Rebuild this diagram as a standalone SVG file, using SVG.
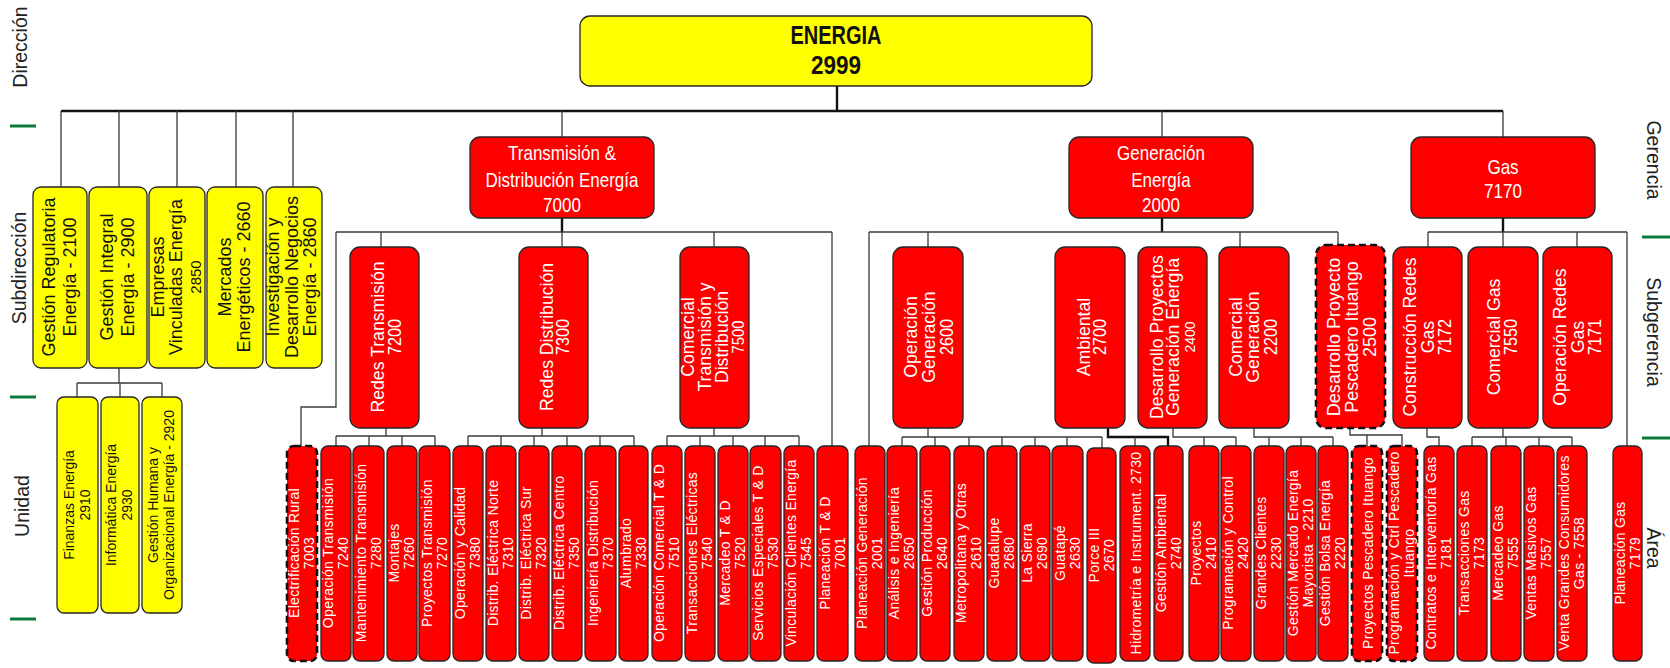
<svg xmlns="http://www.w3.org/2000/svg" width="1670" height="668" viewBox="0 0 1670 668">
<style>
text{font-family:"Liberation Sans",Arial,sans-serif}
.lab{font-size:19.5px;fill:#222}
.r{fill:#ff0000;stroke:#262626;stroke-width:1.3}
.y{fill:#ffff00;stroke:#262626;stroke-width:1.3}
.d{stroke:#111;stroke-width:2.6;stroke-dasharray:7 4}
.ut{font-size:14px;fill:#fff;text-anchor:middle;letter-spacing:0.3px}
.yt{font-size:14px;fill:#111;text-anchor:middle}
.st{font-size:19px;fill:#fff;text-anchor:middle}
.sc{font-size:17.5px}
.gt{font-size:20px;fill:#fff;text-anchor:middle}
.ys{font-size:18px;fill:#111;text-anchor:middle}
.et{font-size:25px;font-weight:bold;fill:#111;text-anchor:middle}
.c{stroke:#3a3a3a;stroke-width:1.3;fill:none}
.k{stroke:#111;stroke-width:2.4;fill:none}
.g{stroke:#0b7a3b;stroke-width:3}
</style>
<rect width="1670" height="668" fill="#fff"/>

<g id="side-labels">
<text class="lab" text-anchor="middle" transform="translate(27,47) rotate(-90)">Dirección</text>
<text class="lab" text-anchor="middle" transform="translate(26,268) rotate(-90)">Subdirección</text>
<text class="lab" text-anchor="middle" transform="translate(29,506) rotate(-90)">Unidad</text>
<text class="lab" text-anchor="middle" transform="translate(1647,160) rotate(90)">Gerencia</text>
<text class="lab" text-anchor="middle" transform="translate(1647,332) rotate(90)">Subgerencia</text>
<text class="lab" text-anchor="middle" transform="translate(1647,548) rotate(90)">Área</text>
<line class="g" x1="10" y1="126" x2="36" y2="126"/>
<line class="g" x1="10" y1="397" x2="36" y2="397"/>
<line class="g" x1="10" y1="619" x2="36" y2="619"/>
<line class="g" x1="1642" y1="237" x2="1670" y2="237"/>
<line class="g" x1="1642" y1="438" x2="1670" y2="438"/>
</g>

<g id="connectors">
<path class="k" d="M837 86V111M61 111H1503"/>
<path class="c" d="M61 111V187M119 111V187M177 111V187M236 111V187M293 111V187"/>
<path class="c" d="M562 111V137M1162 111V137M1503 111V137"/>
<path class="c" d="M119 368V383M77 383H162M77 383V397M120 383V397M162 383V397"/>
<path class="k" d="M562 218V232"/>
<path class="c" d="M336 232H832M381 232V247M562 232V247M714 232V247M832 232V446M336 232V407H301V446"/>
<path class="c" d="M386 428V436M336 436H435M336 436V446M369 436V446M402 436V446M435 436V446"/>
<path class="c" d="M542 428V436M468 436H634M468 436V446M501 436V446M534 436V446M567 436V446M600 436V446M634 436V446"/>
<path class="c" d="M714 428V436M667 436H799M667 436V446M700 436V446M733 436V446M765 436V446M799 436V446"/>
<path class="k" d="M1162 218V232"/>
<path class="c" d="M869 232H1338M869 232V446M928 232V247M1240 232V247M1338 232V244"/>
<path class="c" d="M928 428V437M902 437H1102M902 437V446M935 437V446M969 437V446M1002 437V446M1035 437V446M1067 437V446M1102 437V448"/>
<path class="k" d="M1108 428V437H1168V446"/>
<path class="c" d="M1135 437V446"/>
<path class="c" d="M1173 428V437H1236M1204 437V446M1236 437V446"/>
<path class="c" d="M1254 428V437H1333M1269 437V446M1301 437V446M1333 437V446"/>
<path class="c" d="M1350 428V435H1402V446M1367 435V446"/>
<path class="k" d="M1503 218V232"/>
<path class="c" d="M1428 232H1627M1428 232V247M1503 232V247M1577 232V247M1627 232V446"/>
<path class="c" d="M1427 428V437H1439V446"/>
<path class="c" d="M1503 428V437M1472 437H1572M1472 437V446M1506 437V446M1539 437V446M1572 437V446"/>
</g>

<g id="energia">
<rect class="y" x="580" y="16" width="512" height="70" rx="10"/>
<text class="et" transform="translate(836,44) scale(0.8,1)">ENERGIA</text>
<text class="et" transform="translate(836,74) scale(0.9,1)">2999</text>
</g>

<g id="g2100"><rect class="y" x="33" y="187" width="54" height="181" rx="8"/><text class="ys" transform="translate(60,277) rotate(-90)"><tspan x="0" y="-5">Gestión Regulatoria</tspan><tspan x="0" y="16">Energía - 2100</tspan></text></g>
<g id="g2900"><rect class="y" x="89" y="187" width="58" height="181" rx="8"/><text class="ys" transform="translate(118,277) rotate(-90)"><tspan x="0" y="-5">Gestión Integral</tspan><tspan x="0" y="16">Energía - 2900</tspan></text></g>
<g id="g2850"><rect class="y" x="149" y="187" width="56" height="181" rx="8"/><text class="ys" transform="translate(177,277) rotate(-90)"><tspan x="0" y="-13">Empresas</tspan><tspan x="0" y="5">Vinculadas Energía</tspan><tspan x="0" y="24" font-size="15">2850</tspan></text></g>
<g id="g2660"><rect class="y" x="207" y="187" width="56" height="181" rx="8"/><text class="ys" transform="translate(235,277) rotate(-90)"><tspan x="0" y="-4">Mercados</tspan><tspan x="0" y="15">Energéticos - 2660</tspan></text></g>
<g id="g2860"><rect class="y" x="266" y="187" width="56" height="181" rx="8"/><text class="ys" transform="translate(294,277) rotate(-90)"><tspan x="0" y="-15">Investigación y</tspan><tspan x="0" y="4">Desarrollo  Negocios</tspan><tspan x="0" y="22">Energía - 2860</tspan></text></g>

<g id="g2910"><rect class="y" x="57" y="397" width="41" height="216" rx="7"/><text class="yt" transform="translate(77.5,505) rotate(-90)"><tspan x="0" y="-4">Finanzas Energía</tspan><tspan x="0" y="12">2910</tspan></text></g>
<g id="g2930"><rect class="y" x="101" y="397" width="38" height="216" rx="7"/><text class="yt" transform="translate(120,505) rotate(-90)"><tspan x="0" y="-4">Informática Energía</tspan><tspan x="0" y="12">2930</tspan></text></g>
<g id="g2920"><rect class="y" x="142" y="397" width="40" height="216" rx="7"/><text class="yt" transform="translate(162,505) rotate(-90)"><tspan x="0" y="-4">Gestión Humana y</tspan><tspan x="0" y="12">Organizacional Energía - 2920</tspan></text></g>

<g id="g7000"><rect class="r" x="470" y="137" width="184" height="81" rx="10"/><text class="gt" transform="translate(562,0) scale(0.85,1)"><tspan x="0" y="160">Transmisión &amp;</tspan><tspan x="0" y="187">Distribución Energía</tspan><tspan x="0" y="212">7000</tspan></text></g>
<g id="g2000"><rect class="r" x="1069" y="137" width="184" height="81" rx="10"/><text class="gt" transform="translate(1161,0) scale(0.85,1)"><tspan x="0" y="160">Generación</tspan><tspan x="0" y="187">Energía</tspan><tspan x="0" y="212">2000</tspan></text></g>
<g id="g7170"><rect class="r" x="1411" y="137" width="184" height="81" rx="10"/><text class="gt" transform="translate(1503,0) scale(0.85,1)"><tspan x="0" y="174">Gas</tspan><tspan x="0" y="198">7170</tspan></text></g>

<g id="g7200"><rect class="r" x="350" y="247" width="69" height="181" rx="10"/><text class="st" transform="translate(385,337) rotate(-90) scale(0.93,1)"><tspan x="0" y="-1">Redes Transmisión</tspan><tspan x="0" y="16" class="sc">7200</tspan></text></g>
<g id="g7300"><rect class="r" x="519" y="247" width="69" height="181" rx="10"/><text class="st" transform="translate(553.5,337) rotate(-90) scale(0.93,1)"><tspan x="0" y="-1">Redes Distribución</tspan><tspan x="0" y="16" class="sc">7300</tspan></text></g>
<g id="g7500"><rect class="r" x="680" y="247" width="69" height="181" rx="10"/><text class="st" font-size="18" transform="translate(714.5,337) rotate(-90) scale(0.93,1)"><tspan x="0" y="-21">Comercial</tspan><tspan x="0" y="-4">Transmisión y</tspan><tspan x="0" y="13">Distribución</tspan><tspan x="0" y="30" font-size="16">7500</tspan></text></g>
<g id="g2600"><rect class="r" x="893" y="247" width="70" height="181" rx="10"/><text class="st" transform="translate(928,337) rotate(-90) scale(0.93,1)"><tspan x="0" y="-11">Operación</tspan><tspan x="0" y="7">Generación</tspan><tspan x="0" y="25" class="sc">2600</tspan></text></g>
<g id="g2700"><rect class="r" x="1055" y="247" width="70" height="181" rx="10"/><text class="st" transform="translate(1090,337) rotate(-90) scale(0.93,1)"><tspan x="0" y="0">Ambiental</tspan><tspan x="0" y="16" class="sc">2700</tspan></text></g>
<g id="g2400"><rect class="r" x="1138" y="247" width="69" height="181" rx="10"/><text class="st" font-size="16.5" transform="translate(1172.5,337) rotate(-90) scale(0.93,1)"><tspan x="0" y="-10">Desarrollo Proyectos</tspan><tspan x="0" y="6">Generación Energía</tspan><tspan x="0" y="23" font-size="15">2400</tspan></text></g>
<g id="g2200"><rect class="r" x="1219" y="247" width="70" height="181" rx="10"/><text class="st" transform="translate(1254,337) rotate(-90) scale(0.93,1)"><tspan x="0" y="-12">Comercial</tspan><tspan x="0" y="5">Generación</tspan><tspan x="0" y="23" class="sc">2200</tspan></text></g>
<g id="g2500"><rect class="r d" x="1316" y="245" width="69" height="183" rx="10"/><text class="st" font-size="18.5" transform="translate(1350.5,337) rotate(-90) scale(0.95,1)"><tspan x="0" y="-11">Desarrollo Proyecto</tspan><tspan x="0" y="7">Pescadero Ituango</tspan><tspan x="0" y="26">2500</tspan></text></g>
<g id="g7172"><rect class="r" x="1393" y="247" width="69" height="181" rx="10"/><text class="st" transform="translate(1427.5,337) rotate(-90) scale(0.93,1)"><tspan x="0" y="-12">Construcción Redes</tspan><tspan x="0" y="6">Gas</tspan><tspan x="0" y="24" class="sc">7172</tspan></text></g>
<g id="g7550"><rect class="r" x="1468" y="247" width="70" height="181" rx="10"/><text class="st" transform="translate(1503,337) rotate(-90) scale(0.93,1)"><tspan x="0" y="-3">Comercial Gas</tspan><tspan x="0" y="14" class="sc">7550</tspan></text></g>
<g id="g7171"><rect class="r" x="1543" y="247" width="69" height="181" rx="10"/><text class="st" transform="translate(1577.5,337) rotate(-90) scale(0.93,1)"><tspan x="0" y="-12">Operación Redes</tspan><tspan x="0" y="6">Gas</tspan><tspan x="0" y="24" class="sc">7171</tspan></text></g>

<g id="u7003"><rect class="r d" x="287" y="446" width="30" height="215" rx="7"/><text class="ut" transform="translate(302,553) rotate(-90)"><tspan x="0" y="-3">Electrificación Rural</tspan><tspan x="0" y="12">7003</tspan></text></g>
<g id="u7240"><rect class="r" x="321" y="446" width="30" height="215" rx="7"/><text class="ut" transform="translate(336,553) rotate(-90)"><tspan x="0" y="-3">Operación Transmisión</tspan><tspan x="0" y="12">7240</tspan></text></g>
<g id="u7280"><rect class="r" x="353" y="446" width="31" height="215" rx="7"/><text class="ut" transform="translate(368.5,553) rotate(-90)"><tspan x="0" y="-3">Mantenimiento Transmisión</tspan><tspan x="0" y="12">7280</tspan></text></g>
<g id="u7260"><rect class="r" x="387" y="446" width="30" height="215" rx="7"/><text class="ut" transform="translate(402,553) rotate(-90)"><tspan x="0" y="-3">Montajes</tspan><tspan x="0" y="12">7260</tspan></text></g>
<g id="u7270"><rect class="r" x="419" y="446" width="31" height="215" rx="7"/><text class="ut" transform="translate(434.5,553) rotate(-90)"><tspan x="0" y="-3">Proyectos Transmisión</tspan><tspan x="0" y="12">7270</tspan></text></g>
<g id="u7380"><rect class="r" x="453" y="446" width="30" height="215" rx="7"/><text class="ut" transform="translate(468,553) rotate(-90)"><tspan x="0" y="-3">Operación y Calidad</tspan><tspan x="0" y="12">7380</tspan></text></g>
<g id="u7310"><rect class="r" x="486" y="446" width="30" height="215" rx="7"/><text class="ut" transform="translate(501,553) rotate(-90)"><tspan x="0" y="-3">Distrib. Eléctrica Norte</tspan><tspan x="0" y="12">7310</tspan></text></g>
<g id="u7320"><rect class="r" x="519" y="446" width="30" height="215" rx="7"/><text class="ut" transform="translate(534,553) rotate(-90)"><tspan x="0" y="-3">Distrib. Eléctrica Sur</tspan><tspan x="0" y="12">7320</tspan></text></g>
<g id="u7350"><rect class="r" x="552" y="446" width="30" height="215" rx="7"/><text class="ut" transform="translate(567,553) rotate(-90)"><tspan x="0" y="-3">Distrib. Eléctrica Centro</tspan><tspan x="0" y="12">7350</tspan></text></g>
<g id="u7370"><rect class="r" x="585" y="446" width="31" height="215" rx="7"/><text class="ut" transform="translate(600.5,553) rotate(-90)"><tspan x="0" y="-3">Ingeniería Distribución</tspan><tspan x="0" y="12">7370</tspan></text></g>
<g id="u7330"><rect class="r" x="619" y="446" width="29" height="215" rx="7"/><text class="ut" transform="translate(633.5,553) rotate(-90)"><tspan x="0" y="-3">Alumbrado</tspan><tspan x="0" y="12">7330</tspan></text></g>
<g id="u7510"><rect class="r" x="652" y="446" width="30" height="215" rx="7"/><text class="ut" transform="translate(667,553) rotate(-90)"><tspan x="0" y="-3">Operación Comercial T &amp; D</tspan><tspan x="0" y="12">7510</tspan></text></g>
<g id="u7540"><rect class="r" x="685" y="446" width="30" height="215" rx="7"/><text class="ut" transform="translate(700,553) rotate(-90)"><tspan x="0" y="-3">Transacciones Eléctricas</tspan><tspan x="0" y="12">7540</tspan></text></g>
<g id="u7520"><rect class="r" x="718" y="446" width="30" height="215" rx="7"/><text class="ut" transform="translate(733,553) rotate(-90)"><tspan x="0" y="-3">Mercadeo T &amp; D</tspan><tspan x="0" y="12">7520</tspan></text></g>
<g id="u7530"><rect class="r" x="750" y="446" width="31" height="215" rx="7"/><text class="ut" transform="translate(765.5,553) rotate(-90)"><tspan x="0" y="-3">Servicios Especiales T &amp; D</tspan><tspan x="0" y="12">7530</tspan></text></g>
<g id="u7545"><rect class="r" x="784" y="446" width="30" height="215" rx="7"/><text class="ut" transform="translate(799,553) rotate(-90)"><tspan x="0" y="-3">Vinculación Clientes Energía</tspan><tspan x="0" y="12">7545</tspan></text></g>
<g id="u7001"><rect class="r" x="817" y="446" width="31" height="215" rx="7"/><text class="ut" transform="translate(832.5,553) rotate(-90)"><tspan x="0" y="-3">Planeación T &amp; D</tspan><tspan x="0" y="12">7001</tspan></text></g>

<g id="u2001"><rect class="r" x="855" y="446" width="30" height="215" rx="7"/><text class="ut" transform="translate(870,553) rotate(-90)"><tspan x="0" y="-3">Planeación Generación</tspan><tspan x="0" y="12">2001</tspan></text></g>
<g id="u2650"><rect class="r" x="887" y="446" width="30" height="215" rx="7"/><text class="ut" transform="translate(902,553) rotate(-90)"><tspan x="0" y="-3">Análisis e Ingeniería</tspan><tspan x="0" y="12">2650</tspan></text></g>
<g id="u2640"><rect class="r" x="920" y="446" width="30" height="215" rx="7"/><text class="ut" transform="translate(935,553) rotate(-90)"><tspan x="0" y="-3">Gestión Producción</tspan><tspan x="0" y="12">2640</tspan></text></g>
<g id="u2610"><rect class="r" x="954" y="446" width="30" height="215" rx="7"/><text class="ut" transform="translate(969,553) rotate(-90)"><tspan x="0" y="-3">Metropolitana y Otras</tspan><tspan x="0" y="12">2610</tspan></text></g>
<g id="u2680"><rect class="r" x="987" y="446" width="30" height="215" rx="7"/><text class="ut" transform="translate(1002,553) rotate(-90)"><tspan x="0" y="-3">Guadalupe</tspan><tspan x="0" y="12">2680</tspan></text></g>
<g id="u2690"><rect class="r" x="1020" y="446" width="30" height="215" rx="7"/><text class="ut" transform="translate(1035,553) rotate(-90)"><tspan x="0" y="-3">La Sierra</tspan><tspan x="0" y="12">2690</tspan></text></g>
<g id="u2630"><rect class="r" x="1052" y="446" width="31" height="215" rx="7"/><text class="ut" transform="translate(1067.5,553) rotate(-90)"><tspan x="0" y="-3">Guatapé</tspan><tspan x="0" y="12">2630</tspan></text></g>
<g id="u2670"><rect class="r" x="1087" y="448" width="29" height="215" rx="7"/><text class="ut" transform="translate(1101.5,555) rotate(-90)"><tspan x="0" y="-3">Porce III</tspan><tspan x="0" y="12">2670</tspan></text></g>
<g id="u2730"><rect class="r" x="1120" y="446" width="30" height="215" rx="7"/><text class="ut" transform="translate(1135,553) rotate(-90)"><tspan x="0" y="6">Hidrometría e Instrument.  2730</tspan></text></g>
<g id="u2740"><rect class="r" x="1154" y="446" width="29" height="215" rx="7"/><text class="ut" transform="translate(1168.5,553) rotate(-90)"><tspan x="0" y="-3">Gestión Ambiental</tspan><tspan x="0" y="12">2740</tspan></text></g>
<g id="u2410"><rect class="r" x="1189" y="446" width="30" height="215" rx="7"/><text class="ut" transform="translate(1204,553) rotate(-90)"><tspan x="0" y="-3">Proyectos</tspan><tspan x="0" y="12">2410</tspan></text></g>
<g id="u2420"><rect class="r" x="1221" y="446" width="30" height="215" rx="7"/><text class="ut" transform="translate(1236,553) rotate(-90)"><tspan x="0" y="-3">Programación y Control</tspan><tspan x="0" y="12">2420</tspan></text></g>
<g id="u2230"><rect class="r" x="1254" y="446" width="30" height="215" rx="7"/><text class="ut" transform="translate(1269,553) rotate(-90)"><tspan x="0" y="-3">Grandes Clientes</tspan><tspan x="0" y="12">2230</tspan></text></g>
<g id="u2210"><rect class="r" x="1286" y="446" width="30" height="215" rx="7"/><text class="ut" transform="translate(1301,553) rotate(-90)"><tspan x="0" y="-3">Gestión Mercado Energía</tspan><tspan x="0" y="12">Mayorista - 2210</tspan></text></g>
<g id="u2220"><rect class="r" x="1318" y="446" width="30" height="215" rx="7"/><text class="ut" transform="translate(1333,553) rotate(-90)"><tspan x="0" y="-3">Gestión Bolsa Energía</tspan><tspan x="0" y="12">2220</tspan></text></g>
<g id="u-ppi"><rect class="r d" x="1352" y="446" width="30" height="215" rx="7"/><text class="ut" transform="translate(1367,553) rotate(-90)"><tspan x="0" y="6">Proyectos Pescadero Ituango</tspan></text></g>
<g id="u-pcpi"><rect class="r d" x="1387" y="446" width="30" height="215" rx="7"/><text class="ut" transform="translate(1402,553) rotate(-90)"><tspan x="0" y="-3">Programación y Ctrl Pescadero</tspan><tspan x="0" y="12">Ituango</tspan></text></g>

<g id="u7181"><rect class="r" x="1424" y="446" width="30" height="215" rx="7"/><text class="ut" transform="translate(1439,553) rotate(-90)"><tspan x="0" y="-3">Contratos e Interventoría Gas</tspan><tspan x="0" y="12">7181</tspan></text></g>
<g id="u7173"><rect class="r" x="1457" y="446" width="30" height="215" rx="7"/><text class="ut" transform="translate(1472,553) rotate(-90)"><tspan x="0" y="-3">Transacciones Gas</tspan><tspan x="0" y="12">7173</tspan></text></g>
<g id="u7555"><rect class="r" x="1491" y="446" width="30" height="215" rx="7"/><text class="ut" transform="translate(1506,553) rotate(-90)"><tspan x="0" y="-3">Mercadeo Gas</tspan><tspan x="0" y="12">7555</tspan></text></g>
<g id="u7557"><rect class="r" x="1524" y="446" width="30" height="215" rx="7"/><text class="ut" transform="translate(1539,553) rotate(-90)"><tspan x="0" y="-3">Ventas Masivos Gas</tspan><tspan x="0" y="12">7557</tspan></text></g>
<g id="u7558"><rect class="r" x="1557" y="446" width="30" height="215" rx="7"/><text class="ut" transform="translate(1572,553) rotate(-90)"><tspan x="0" y="-3">Venta Grandes Consumidores</tspan><tspan x="0" y="12">Gas - 7558</tspan></text></g>
<g id="u7179"><rect class="r" x="1613" y="446" width="29" height="215" rx="7"/><text class="ut" transform="translate(1627.5,553) rotate(-90)"><tspan x="0" y="-3">Planeación Gas</tspan><tspan x="0" y="12">7179</tspan></text></g>
</svg>
